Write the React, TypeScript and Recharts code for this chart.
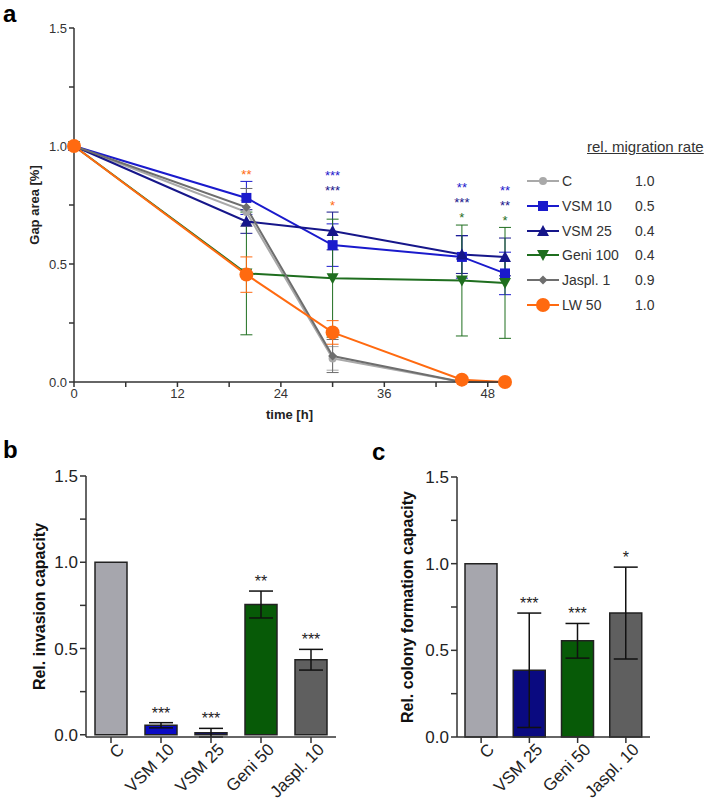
import React from 'react';
import {
  ComposedChart, Line, Scatter, XAxis, YAxis, ErrorBar, Label,
  BarChart, Bar, Cell, LabelList,
} from 'recharts';

// ---- panel a: gap closure over time ----
const times = [0, 20, 30, 45, 50];
const seriesKeys = ['c', 'vsm10', 'vsm25', 'geni100', 'jaspl1', 'lw50'];
const seriesNames = ['C', 'VSM 10', 'VSM 25', 'Geni 100', 'Jaspl. 1', 'LW 50'];
const migrationRates = ['1.0', '0.5', '0.4', '0.4', '0.9', '1.0'];

const cMean = [1, 0.72, 0.1, 0, 0];
const cErr = [0, 0.05, 0.05, 0, 0];
const vsm10Mean = [1, 0.78, 0.58, 0.53, 0.46];
const vsm10Err = [0, 0.07, 0.09, 0.09, 0.09];
const vsm25Mean = [1, 0.68, 0.64, 0.54, 0.53];
const vsm25Err = [0, 0.05, 0.08, 0.08, 0.08];
const geni100Mean = [1, 0.46, 0.44, 0.43, 0.42];
const geni100Err = [0, 0.26, 0.25, 0.235, 0.235];
const jaspl1Mean = [1, 0.74, 0.11, 0, 0];
const jaspl1Err = [0, 0.08, 0.07, 0, 0];
const lw50Mean = [1, 0.455, 0.21, 0.01, 0];
const lw50Err = [0, 0.075, 0.05, 0, 0];

// significance marks per time point, listed bottom to top
const sigTimes = [20, 30, 45, 50];
const sigMarks = [
  [{ s: 'lw50', t: '**' }],
  [{ s: 'lw50', t: '*' }, { s: 'vsm25', t: '***' }, { s: 'vsm10', t: '***' }],
  [{ s: 'geni100', t: '*' }, { s: 'vsm25', t: '***' }, { s: 'vsm10', t: '**' }],
  [{ s: 'geni100', t: '*' }, { s: 'vsm25', t: '**' }, { s: 'vsm10', t: '**' }],
];

// ---- panel b: invasion ----
const invCats = ['C', 'VSM 10', 'VSM 25', 'Geni 50', 'Jaspl. 10'];
const invVals = [1, 0.055, 0.012, 0.755, 0.435];
const invErr = [0, 0.015, 0.025, 0.078, 0.06];
const invSig = ['', '***', '***', '**', '***'];

// ---- panel c: colony formation ----
const colCats = ['C', 'VSM 25', 'Geni 50', 'Jaspl. 10'];
const colVals = [1, 0.385, 0.555, 0.715];
const colErr = [0, 0.33, 0.1, 0.265];
const colSig = ['', '***', '***', '*'];

const FONT = '"Liberation Sans", Arial, sans-serif';

const lineColors: Record<string, string> = {
  c: '#a9a9a9', vsm10: '#1a1acc', vsm25: '#16168a', geni100: '#1f6e1f', jaspl1: '#6e6e6e', lw50: '#ff6a10',
};
const markers: Record<string, string> = {
  c: 'smallCircle', vsm10: 'square', vsm25: 'triUp', geni100: 'triDown', jaspl1: 'diamond', lw50: 'bigCircle',
};
const barColors: Record<string, string> = {
  C: '#a6a6ad', 'VSM 10': '#0b0bc4', 'VSM 25': '#0a0a80', 'Geni 50': '#075a07', 'Jaspl. 10': '#5f5f5f',
};

const means: Record<string, number[]> = {
  c: cMean, vsm10: vsm10Mean, vsm25: vsm25Mean, geni100: geni100Mean, jaspl1: jaspl1Mean, lw50: lw50Mean,
};
const errs: Record<string, number[]> = {
  c: cErr, vsm10: vsm10Err, vsm25: vsm25Err, geni100: geni100Err, jaspl1: jaspl1Err, lw50: lw50Err,
};

const lineData = times.map((t, i) => {
  const row: Record<string, number> = { t };
  seriesKeys.forEach((k) => {
    row[k] = means[k][i];
    row[k + 'Err'] = errs[k][i];
  });
  return row;
});

const sigData = sigTimes.map((t, j) => {
  const i = times.indexOf(t);
  const top = Math.max(...seriesKeys.map((k) => means[k][i] + errs[k][i]));
  return { t, top, marks: sigMarks[j] };
});

function Marker({ cx, cy, kind, color }: { cx: number; cy: number; kind: string; color: string }) {
  if (cx == null || cy == null) return null;
  switch (kind) {
    case 'smallCircle':
      return <circle cx={cx} cy={cy} r={4} fill={color} />;
    case 'bigCircle':
      return <circle cx={cx} cy={cy} r={7} fill={color} />;
    case 'square':
      return <rect x={cx - 5} y={cy - 5} width={10} height={10} fill={color} />;
    case 'triUp':
      return <polygon points={`${cx},${cy - 6} ${cx + 6},${cy + 5} ${cx - 6},${cy + 5}`} fill={color} />;
    case 'triDown':
      return <polygon points={`${cx},${cy + 6} ${cx + 6},${cy - 5} ${cx - 6},${cy - 5}`} fill={color} />;
    case 'diamond':
      return <polygon points={`${cx},${cy - 4.5} ${cx + 4.5},${cy} ${cx},${cy + 4.5} ${cx - 4.5},${cy}`} fill={color} />;
    default:
      return null;
  }
}

const fmtMajor = (v: number) => (Math.abs(v * 2 - Math.round(v * 2)) < 1e-6 ? v.toFixed(1) : '');
const yTicks = [0, 0.25, 0.5, 0.75, 1, 1.25, 1.5];

function GapChart() {
  return (
    <ComposedChart width={530} height={430} data={lineData}
      margin={{ top: 28, right: 25, left: 30, bottom: 18 }} style={{ fontFamily: FONT }}>
      <XAxis dataKey="t" type="number" domain={[0, 50]} ticks={[0, 6, 12, 18, 24, 30, 36, 42, 48]}
        tickFormatter={(v: number) => (v % 12 === 0 ? String(v) : '')} height={30}
        tick={{ fontSize: 13, fill: '#333' }} stroke="#333" strokeWidth={1.5} tickSize={5}>
        <Label value="time [h]" position="bottom" offset={-2} style={{ fontSize: 13, fontWeight: 'bold', fill: '#222' }} />
      </XAxis>
      <YAxis type="number" domain={[0, 1.5]} ticks={yTicks} tickFormatter={fmtMajor} width={44}
        tick={{ fontSize: 13, fill: '#333' }} stroke="#333" strokeWidth={1.5} tickSize={5}>
        <Label value="Gap area [%]" angle={-90} position="left" offset={-4}
          style={{ fontSize: 13, fontWeight: 'bold', fill: '#222', textAnchor: 'middle' }} />
      </YAxis>
      {seriesKeys.map((k) => (
        <Line key={k} dataKey={k} stroke={lineColors[k]} strokeWidth={2} isAnimationActive={false}
          dot={(p: any) => <Marker key={`${k}-${p.index}`} cx={p.cx} cy={p.cy} kind={markers[k]} color={lineColors[k]} />}
          activeDot={false}>
          <ErrorBar dataKey={k + 'Err'} direction="y" width={6} stroke={lineColors[k]} strokeWidth={1} />
        </Line>
      ))}
      <Scatter data={sigData} dataKey="top" isAnimationActive={false}
        shape={(p: any) => (
          <g>
            {p.payload.marks.map((m: any, i: number) => (
              <text key={i} x={p.cx} y={p.cy - 10 - i * 15} textAnchor="middle" fontSize={13}
                fill={lineColors[m.s]} dominantBaseline="middle" dy={4}>{m.t}</text>
            ))}
          </g>
        )} />
    </ComposedChart>
  );
}

function GapLegend() {
  return (
    <div style={{ position: 'absolute', left: 524, top: 138, width: 185, fontFamily: FONT, color: '#333' }}>
      <div style={{ position: 'absolute', left: 63, top: 0, fontSize: 15, textDecoration: 'underline', whiteSpace: 'nowrap' }}>
        rel. migration rate
      </div>
      {seriesKeys.map((k, i) => (
        <div key={k} style={{ position: 'absolute', left: 0, top: 33 + i * 24.8, height: 20, width: 185, fontSize: 14 }}>
          <svg width={36} height={20} style={{ position: 'absolute', left: 3, top: 0 }}>
            <line x1={0} y1={10} x2={32} y2={10} stroke={lineColors[k]} strokeWidth={2} />
            <Marker cx={16} cy={10} kind={markers[k]} color={lineColors[k]} />
          </svg>
          <span style={{ position: 'absolute', left: 38, top: 2, whiteSpace: 'nowrap' }}>{seriesNames[i]}</span>
          <span style={{ position: 'absolute', left: 111, top: 2 }}>{migrationRates[i]}</span>
        </div>
      ))}
    </div>
  );
}

function RotTick({ x, y, payload }: any) {
  return (
    <g transform={`translate(${x},${y})`}>
      <text x={6} y={0} dy={14} textAnchor="end" transform="rotate(-45)" fontSize={17} fill="#222">
        {payload.value}
      </text>
    </g>
  );
}

function SigBarChart({ cats, vals, err, sig, width, margin, yLabel, labelOffset }: any) {
  const data = cats.map((c: string, i: number) => ({ name: c, v: vals[i], err: err[i], sig: sig[i] }));
  const plotH = 370 - margin.top - margin.bottom - 60;
  const pxPerUnit = plotH / 1.5;
  return (
    <BarChart width={width} height={370} data={data} margin={margin} style={{ fontFamily: FONT }}
      barCategoryGap="33%">
      <XAxis dataKey="name" interval={0} tick={<RotTick />} height={60} stroke="#333" strokeWidth={1.5} tickSize={6} />
      <YAxis type="number" domain={[0, 1.5]} ticks={yTicks} tickFormatter={fmtMajor} width={40}
        tick={{ fontSize: 17, fill: '#222' }} stroke="#333" strokeWidth={1.5} tickSize={6}>
        <Label value={yLabel} angle={-90} position="left" offset={labelOffset}
          style={{ fontSize: 16, fontWeight: 'bold', fill: '#111', textAnchor: 'middle' }} />
      </YAxis>
      <Bar dataKey="v" stroke="#222" strokeWidth={1.5} isAnimationActive={false} barSize={32}>
        {data.map((d: any) => <Cell key={d.name} fill={barColors[d.name]} />)}
        <ErrorBar dataKey="err" direction="y" width={12} stroke="#111" strokeWidth={1.5} />
        <LabelList dataKey="sig" content={(p: any) => {
          if (!p.value) return null;
          const e = data[p.index].err;
          return (
            <text x={p.x + p.width / 2} y={p.y - e * pxPerUnit - 4} textAnchor="middle" fontSize={16} fill="#222">
              {p.value}
            </text>
          );
        }} />
      </Bar>
    </BarChart>
  );
}

const letter: React.CSSProperties = {
  position: 'absolute', fontFamily: FONT, fontWeight: 'bold', fontSize: 24, lineHeight: '26px', color: '#000',
};

export default function App() {
  return (
    <div style={{ position: 'absolute', left: 0, top: 0, width: 709, height: 807, background: '#fff' }}>
      <div style={{ position: 'absolute', left: 0, top: 0 }}>
        <GapChart />
      </div>
      <GapLegend />
      <div style={{ position: 'absolute', left: 0, top: 440 }}>
        <SigBarChart cats={invCats} vals={invVals} err={invErr} sig={invSig} width={350} labelOffset={7}
          margin={{ top: 36, right: 14, left: 46, bottom: 13 }} yLabel="Rel. invasion capacity" />
      </div>
      <div style={{ position: 'absolute', left: 360, top: 440 }}>
        <SigBarChart cats={colCats} vals={colVals} err={colErr} sig={colSig} width={349} labelOffset={10}
          margin={{ top: 37, right: 59, left: 57, bottom: 13 }} yLabel="Rel. colony formation capacity" />
      </div>
      <div style={{ ...letter, left: 3, top: 1 }}>a</div>
      <div style={{ ...letter, left: 3, top: 437 }}>b</div>
      <div style={{ ...letter, left: 372, top: 439 }}>c</div>
    </div>
  );
}
